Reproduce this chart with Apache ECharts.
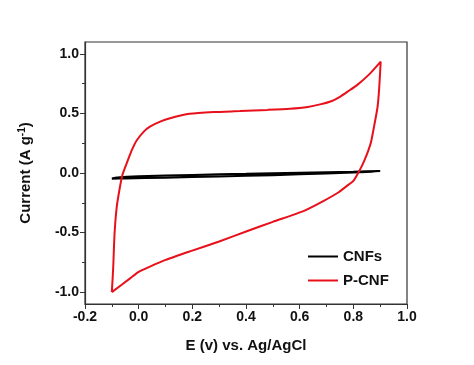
<!DOCTYPE html>
<html><head><meta charset="utf-8">
<script src="https://cdn.jsdelivr.net/npm/echarts@6/dist/echarts.min.js"></script>
<style>html,body{margin:0;padding:0;background:#fff}#c{width:474px;height:365px}</style>
</head><body><div id="c"></div>
<script>
const xTicks = [-0.2, 0.0, 0.2, 0.4, 0.6, 0.8, 1.0];
const yTicks = [-1.0, -0.5, 0.0, 0.5, 1.0];
const yMinorTicks = [-0.75, -0.25, 0.25, 0.75];
const seriesNames = ['CNFs', 'P-CNF'];

const cnfE = [-0.1, -0.08, 0.0, 0.2, 0.4, 0.6, 0.8, 0.9, 0.85, 0.7, 0.5, 0.3, 0.1, -0.05, -0.1];
const cnfI = [-0.047, -0.038, -0.028, -0.016, -0.007, 0.002, 0.011, 0.017, 0.009, -0.004, -0.018, -0.029, -0.039, -0.046, -0.048];

const pcnfE = [-0.1, -0.095, -0.09, -0.082, -0.07, -0.061, -0.05, -0.038, -0.026, -0.007, 0.02, 0.042, 0.08, 0.117, 0.19, 0.28, 0.378, 0.48, 0.564, 0.63, 0.676, 0.72, 0.75, 0.78, 0.815, 0.86, 0.902,
  0.896, 0.89, 0.878, 0.866, 0.856, 0.844, 0.832, 0.819, 0.8, 0.775, 0.744, 0.688, 0.614, 0.5, 0.403, 0.3, 0.191, 0.1, 0.042, 0.0, -0.032, -0.1];
const pcnfI = [-1.0, -0.8, -0.515, -0.29, -0.12, -0.02, 0.05, 0.12, 0.19, 0.275, 0.35, 0.39, 0.432, 0.46, 0.497, 0.512, 0.52, 0.53, 0.54, 0.555, 0.576, 0.605, 0.64, 0.685, 0.74, 0.83, 0.935,
  0.7, 0.55, 0.4, 0.26, 0.19, 0.12, 0.06, 0.005, -0.066, -0.11, -0.164, -0.236, -0.32, -0.41, -0.489, -0.575, -0.658, -0.73, -0.786, -0.83, -0.885, -1.0];

const pairs = (a, b) => a.map((v, i) => [v, b[i]]);
const fmt = v => v.toFixed(1);
const font = 'Liberation Sans, Arial, sans-serif';

const chart = echarts.init(document.getElementById('c'), null, {renderer: 'canvas'});
chart.setOption({
  animation: false,
  backgroundColor: '#fff',
  grid: {left: 85, right: 67, top: 42, bottom: 61, show: true, borderColor: '#333', borderWidth: 1.2, containLabel: false},
  legend: {
    orient: 'vertical', left: 303, top: 244, itemWidth: 30, itemHeight: 2, itemGap: 9, icon: 'rect',
    data: seriesNames,
    textStyle: {fontFamily: font, fontWeight: 'bold', fontSize: 15, color: '#111', padding: [0,0,0,0]}
  },
  xAxis: {
    type: 'value', min: -0.2, max: 1.0, interval: 0.2,
    name: 'E (v) vs. Ag/AgCl', nameLocation: 'middle', nameGap: 34,
    nameTextStyle: {fontFamily: font, fontWeight: 'bold', fontSize: 15, color: '#111'},
    axisLine: {onZero: false, lineStyle: {color: '#333', width: 1.2}},
    axisTick: {inside: false, length: 5, lineStyle: {color: '#333'}},
    minorTick: {show: true, splitNumber: 2, length: 3, lineStyle: {color: '#333'}},
    axisLabel: {formatter: fmt, fontFamily: font, fontWeight: 'bold', fontSize: 14, color: '#111', margin: 6},
    splitLine: {show: false}
  },
  yAxis: [{
    type: 'value', min: -1.1, max: 1.1, position: 'left',
    name: '{a|Current (A g}{s|-1}{a|)}', nameLocation: 'middle', nameGap: 50,
    nameTextStyle: {rich: {
      a: {fontFamily: font, fontWeight: 'bold', fontSize: 15, color: '#111'},
      s: {fontFamily: font, fontWeight: 'bold', fontSize: 10, color: '#111', verticalAlign: 'top', padding: [0,0,8,0]}
    }},
    axisLine: {show: true, onZero: false, lineStyle: {color: '#333', width: 1.2}},
    axisTick: {show: true, length: 5, customValues: yTicks, lineStyle: {color: '#333'}},
    axisLabel: {customValues: yTicks, formatter: fmt, fontFamily: font, fontWeight: 'bold', fontSize: 14, color: '#111', margin: 6},
    splitLine: {show: false}
  }, {
    type: 'value', min: -1.1, max: 1.1, position: 'left', offset: 0,
    axisLine: {show: false, onZero: false},
    axisTick: {show: true, length: 3, customValues: yMinorTicks, lineStyle: {color: '#333'}},
    axisLabel: {show: false},
    splitLine: {show: false}
  }],
  series: [{
    name: seriesNames[0], type: 'line', data: pairs(cnfE, cnfI), showSymbol: false, smooth: 0.2,
    color: '#000', lineStyle: {color: '#000', width: 2}
  }, {
    name: seriesNames[1], type: 'line', data: pairs(pcnfE, pcnfI), showSymbol: false, smooth: 0.2,
    color: '#e8101a', lineStyle: {color: '#e8101a', width: 2}
  }]
});
</script></body></html>
